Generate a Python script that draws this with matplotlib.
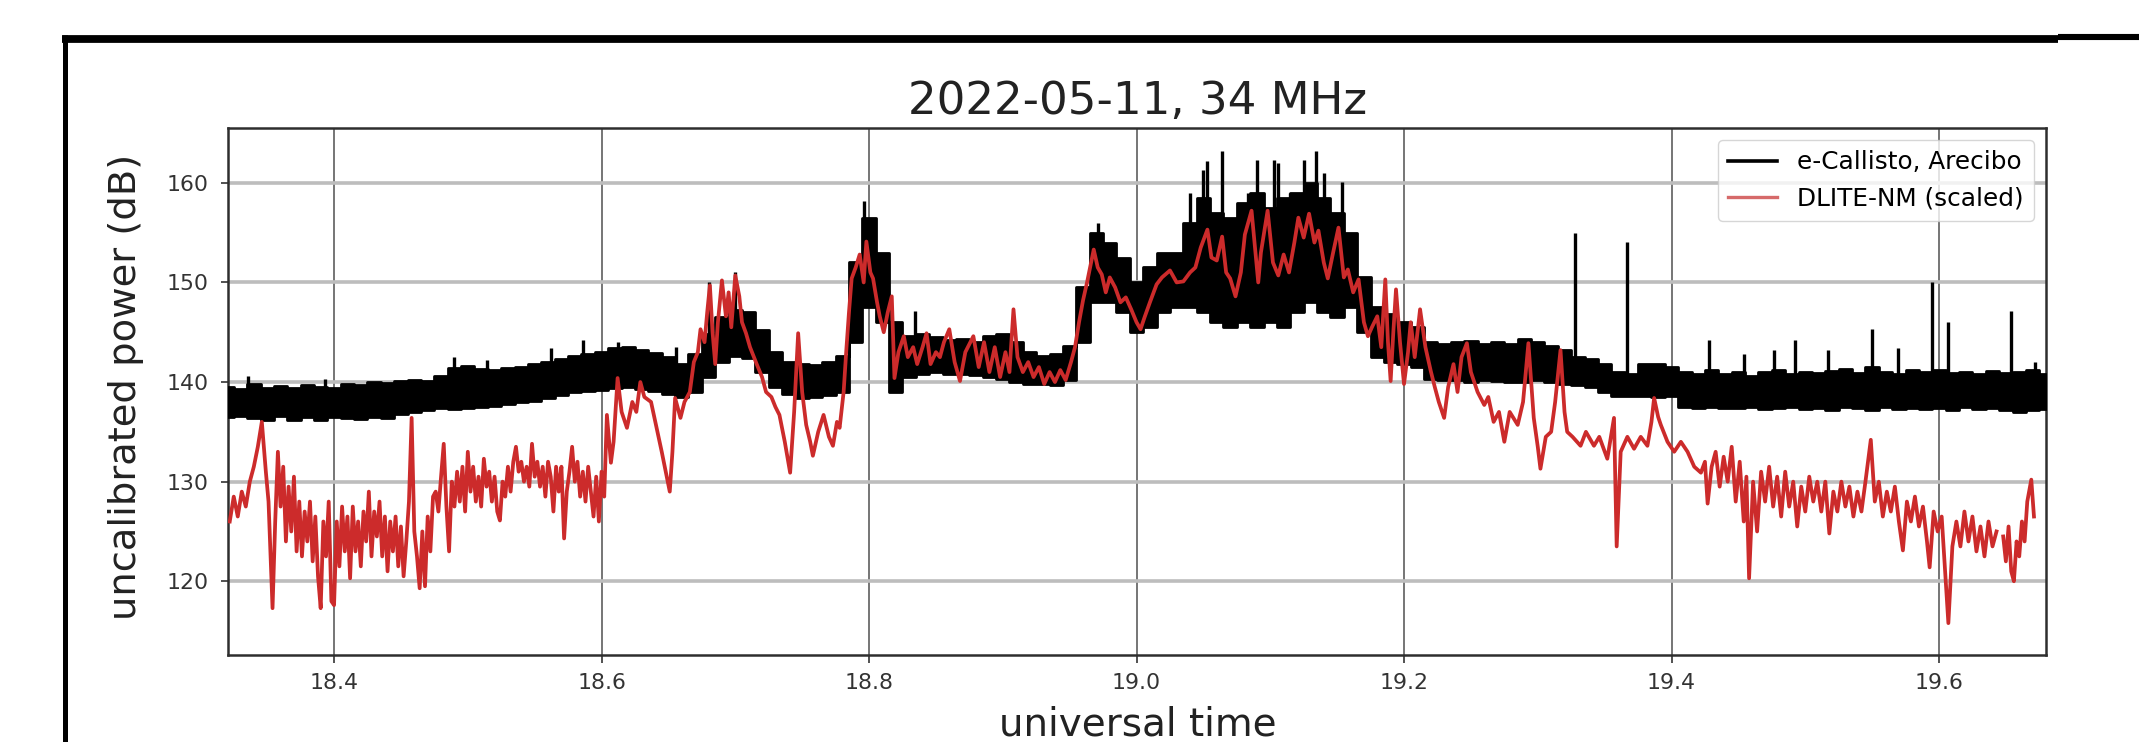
import numpy as np
import matplotlib
matplotlib.use("Agg")
import matplotlib.pyplot as plt
from matplotlib.lines import Line2D

# ---------------- data ----------------
title = "2022-05-11, 34 MHz"
xlabel = "universal time"
ylabel = "uncalibrated power (dB)"
series_names = ["e-Callisto, Arecibo", "DLITE-NM (scaled)"]
xticks = [18.4, 18.6, 18.8, 19.0, 19.2, 19.4, 19.6]
yticks = [120, 130, 140, 150, 160]

# e-Callisto band (lower / upper envelope), one value every 0.01 h from 18.32 to 19.68
bk_t = np.round(np.linspace(18.32, 19.68, 137), 2)
bk_lo = [136.5, 136.6, 136.4, 136.2, 136.6, 136.2, 136.5, 136.2, 136.5, 136.4,
         136.3, 136.5, 136.4, 136.8, 137.0, 137.2, 137.4, 137.3, 137.4, 137.5,
         137.6, 137.8, 138.0, 138.1, 138.4, 138.7, 139.0, 139.1, 139.2, 139.4,
         139.5, 139.3, 139.1, 138.8, 138.5, 139.0, 140.5, 142.0, 142.6, 142.4,
         141.0, 139.5, 138.8, 138.4, 138.5, 138.7, 139.0, 144.0, 147.5, 146.0,
         139.0, 140.5, 140.8, 141.0, 140.8, 140.8, 140.7, 140.5, 140.3, 140.0,
         139.8, 139.8, 139.7, 140.2, 144.0, 148.0, 148.0, 147.0, 145.0, 145.5,
         147.0, 147.5, 147.5, 147.0, 146.0, 145.5, 146.0, 145.5, 146.0, 145.5,
         147.0, 148.0, 147.0, 146.5, 147.5, 145.0, 142.5, 142.0, 141.8, 141.5,
         140.3, 140.2, 140.2, 140.0, 140.2, 140.1, 140.0, 140.0, 140.2, 140.0,
         139.8, 139.7, 139.5, 139.0, 138.6, 138.6, 138.6, 138.5, 138.6, 137.5,
         137.4, 137.5, 137.4, 137.4, 137.5, 137.3, 137.4, 137.5, 137.3, 137.4,
         137.2, 137.5, 137.4, 137.2, 137.5, 137.3, 137.4, 137.3, 137.4, 137.2,
         137.5, 137.3, 137.4, 137.2, 137.0, 137.2, 137.3]
bk_hi = [139.5, 139.3, 139.8, 139.4, 139.6, 139.4, 139.7, 139.5, 139.4, 139.8,
         139.7, 140.0, 139.9, 140.1, 140.2, 140.1, 140.6, 141.4, 141.6, 141.3,
         141.2, 141.4, 141.5, 141.8, 142.0, 142.3, 142.6, 142.8, 143.0, 143.4,
         143.5, 143.2, 142.9, 142.5, 141.8, 142.8, 144.8, 146.5, 147.2, 147.0,
         145.2, 143.0, 142.0, 141.8, 141.7, 142.0, 142.6, 152.0, 156.5, 153.0,
         146.0, 144.6, 144.8, 144.5, 144.2, 144.3, 144.0, 144.6, 144.8, 144.0,
         143.0, 142.6, 142.8, 143.6, 149.5, 155.0, 154.0, 152.5, 150.0, 151.5,
         153.0, 153.0, 156.0, 158.5, 157.0, 156.5, 158.0, 159.0, 157.5, 158.5,
         159.0, 160.0, 158.5, 157.0, 155.0, 150.5, 147.5, 146.8, 146.0, 145.5,
         144.0, 143.8, 144.0, 144.1, 143.8, 144.0, 143.8, 144.3, 144.0, 143.6,
         143.2, 142.5, 142.3, 141.8, 141.0, 140.8, 141.8, 141.8, 141.5, 141.0,
         140.8, 141.2, 140.8, 141.0, 140.6, 141.0, 141.2, 140.8, 141.0, 140.9,
         141.1, 141.3, 140.9, 141.5, 141.0, 140.8, 141.2, 141.0, 141.2, 140.9,
         141.0, 140.8, 141.1, 140.9, 141.0, 141.2, 140.8]

# e-Callisto narrow spikes: time and peak value
spike_t = [18.336, 18.393, 18.490, 18.514, 18.562, 18.586, 18.612, 18.656, 18.680, 18.700,
           18.796, 18.806, 18.834, 18.971, 19.040, 19.050, 19.053, 19.064, 19.083, 19.090,
           19.103, 19.106, 19.115, 19.125, 19.134, 19.140, 19.154, 19.328, 19.367, 19.428,
           19.454, 19.477, 19.492, 19.517, 19.550, 19.569, 19.595, 19.607, 19.654, 19.672]
spike_v = [140.6, 140.3, 142.5, 142.2, 143.4, 144.2, 144.0, 143.5, 150.0, 151.0,
           158.2, 153.0, 147.1, 156.0, 159.0, 161.3, 162.2, 163.2, 159.0, 162.3,
           162.3, 162.0, 159.0, 162.3, 163.2, 161.0, 160.1, 155.0, 154.1, 144.2,
           142.8, 143.2, 144.2, 143.2, 145.3, 143.4, 150.0, 146.0, 147.1, 142.0]

# DLITE-NM (scaled) trace
red_t = [18.322, 18.325, 18.328, 18.331, 18.334, 18.337, 18.340, 18.343, 18.346, 18.349,
         18.351, 18.354, 18.356, 18.358, 18.360, 18.362, 18.364, 18.366, 18.368, 18.370,
         18.372, 18.374, 18.376, 18.378, 18.380, 18.382, 18.384, 18.386, 18.388, 18.390,
         18.392, 18.394, 18.396, 18.398, 18.400, 18.402, 18.404, 18.406, 18.408, 18.410,
         18.412, 18.414, 18.416, 18.418, 18.420, 18.422, 18.424, 18.426, 18.428, 18.430,
         18.432, 18.434, 18.436, 18.438, 18.440, 18.442, 18.444, 18.446, 18.448, 18.450,
         18.452, 18.454, 18.456, 18.458, 18.460, 18.462, 18.464, 18.466, 18.468, 18.470,
         18.472, 18.474, 18.476, 18.478, 18.480, 18.482, 18.484, 18.486, 18.488, 18.490,
         18.492, 18.494, 18.496, 18.498, 18.500, 18.502, 18.504, 18.506, 18.508, 18.510,
         18.512, 18.514, 18.516, 18.518, 18.520, 18.522, 18.524, 18.526, 18.528, 18.530,
         18.532, 18.534, 18.536, 18.538, 18.540, 18.542, 18.544, 18.546, 18.548, 18.550,
         18.552, 18.554, 18.556, 18.558, 18.560, 18.562, 18.564, 18.566, 18.568, 18.570,
         18.572, 18.574, 18.576, 18.578, 18.580, 18.582, 18.584, 18.586, 18.588, 18.590,
         18.592, 18.594, 18.596, 18.598, 18.600, 18.602, 18.604, 18.607, 18.609, 18.612,
         18.615, 18.619, 18.623, 18.626, 18.629, 18.632, 18.637, 18.641, 18.645, 18.648,
         18.651, 18.653, 18.655, 18.659, 18.662, 18.666, 18.669, 18.672, 18.674, 18.677,
         18.679, 18.681, 18.683, 18.685, 18.687, 18.690, 18.693, 18.695, 18.697, 18.700,
         18.703, 18.705, 18.708, 18.711, 18.716, 18.720, 18.723, 18.727, 18.730, 18.733,
         18.737, 18.741, 18.744, 18.747, 18.750, 18.753, 18.756, 18.758, 18.762, 18.766,
         18.770, 18.773, 18.776, 18.778, 18.781, 18.783, 18.785, 18.787, 18.790, 18.793,
         18.796, 18.798, 18.801, 18.803, 18.806, 18.808, 18.811, 18.814, 18.817, 18.819,
         18.822, 18.826, 18.829, 18.833, 18.836, 18.840, 18.843, 18.846, 18.850, 18.853,
         18.856, 18.860, 18.864, 18.868, 18.872, 18.878, 18.882, 18.886, 18.890, 18.894,
         18.898, 18.902, 18.905, 18.908, 18.911, 18.915, 18.919, 18.923, 18.927, 18.931,
         18.935, 18.939, 18.943, 18.947, 18.951, 18.954, 18.957, 18.960, 18.963, 18.966,
         18.968, 18.971, 18.974, 18.977, 18.980, 18.984, 18.988, 18.992, 18.996, 19.000,
         19.003, 19.006, 19.010, 19.015, 19.019, 19.025, 19.030, 19.035, 19.040, 19.044,
         19.048, 19.053, 19.056, 19.060, 19.064, 19.067, 19.070, 19.074, 19.078, 19.081,
         19.086, 19.091, 19.093, 19.098, 19.102, 19.106, 19.110, 19.114, 19.118, 19.121,
         19.125, 19.129, 19.133, 19.136, 19.140, 19.143, 19.147, 19.151, 19.155, 19.158,
         19.162, 19.166, 19.170, 19.173, 19.176, 19.180, 19.183, 19.186, 19.188, 19.190,
         19.192, 19.194, 19.197, 19.200, 19.203, 19.205, 19.208, 19.212, 19.216, 19.220,
         19.223, 19.226, 19.230, 19.233, 19.237, 19.240, 19.243, 19.247, 19.250, 19.255,
         19.260, 19.263, 19.267, 19.271, 19.275, 19.279, 19.285, 19.289, 19.293, 19.297,
         19.300, 19.302, 19.306, 19.310, 19.313, 19.317, 19.320, 19.322, 19.326, 19.332,
         19.336, 19.342, 19.346, 19.352, 19.357, 19.359, 19.362, 19.367, 19.372, 19.377,
         19.382, 19.385, 19.387, 19.390, 19.392, 19.397, 19.402, 19.407, 19.412, 19.417,
         19.422, 19.425, 19.427, 19.430, 19.433, 19.436, 19.439, 19.442, 19.445, 19.448,
         19.451, 19.454, 19.456, 19.458, 19.461, 19.464, 19.467, 19.470, 19.473, 19.476,
         19.479, 19.482, 19.485, 19.488, 19.491, 19.494, 19.497, 19.500, 19.503, 19.506,
         19.509, 19.512, 19.515, 19.518, 19.521, 19.524, 19.527, 19.530, 19.533, 19.536,
         19.539, 19.542, 19.545, 19.549, 19.552, 19.555, 19.558, 19.561, 19.564, 19.567,
         19.570, 19.573, 19.576, 19.579, 19.582, 19.585, 19.588, 19.591, 19.593, 19.596,
         19.599, 19.602, 19.605, 19.607, 19.610, 19.613, 19.616, 19.619, 19.622, 19.625,
         19.628, 19.631, 19.634, 19.637, 19.640, 19.643, 19.646, 19.648, 19.650, 19.652,
         19.654, 19.656, 19.658, 19.660, 19.662, 19.664, 19.666, 19.669, 19.671]
red_v = [126.0, 128.5, 126.5, 129.0, 127.5, 130.0, 131.5, 133.5, 136.0, 131.0,
         128.0, 117.3, 126.0, 133.0, 127.5, 131.5, 124.0, 129.5, 125.0, 130.5,
         123.0, 128.0, 122.5, 127.0, 124.0, 128.0, 122.0, 126.5, 120.5, 117.3,
         126.0, 122.5, 128.0, 118.0, 117.6, 126.0, 121.5, 127.5, 123.0, 126.5,
         120.3, 127.5, 123.0, 126.0, 121.5, 127.0, 124.0, 129.0, 122.5, 127.0,
         124.5, 128.0, 122.5, 126.5, 121.0, 126.0, 123.0, 126.5, 121.5, 125.5,
         120.5, 124.0, 128.0, 136.4, 125.0, 122.5, 119.3, 125.0, 119.5, 126.5,
         123.0, 128.5, 129.0, 127.0, 130.5, 133.8, 127.5, 123.0, 130.0, 127.5,
         131.0, 128.0, 131.5, 127.0, 133.0, 129.0, 131.5, 128.0, 130.5, 127.5,
         132.3, 129.5, 131.0, 128.0, 130.5, 127.0, 126.1, 130.0, 128.5, 131.5,
         129.0, 132.0, 133.5, 131.0, 132.0, 130.0, 131.5, 129.5, 133.8, 130.5,
         132.0, 129.5, 131.5, 128.5, 132.0, 130.5, 127.0, 131.5, 129.0, 131.5,
         124.3, 129.0, 131.0, 133.5, 130.0, 132.0, 128.5, 131.0, 128.0, 131.5,
         129.0, 126.5, 130.5, 126.0, 131.0, 128.5, 136.7, 131.9, 134.0, 140.4,
         137.0, 135.4, 138.0, 137.0, 140.0, 138.5, 138.0, 135.5, 133.0, 131.0,
         129.0, 133.0, 138.4, 136.4, 138.0, 139.0, 142.0, 143.0, 145.3, 144.0,
         147.0, 149.7, 145.0, 141.8, 146.0, 150.2, 146.6, 149.0, 145.5, 150.7,
         148.6, 146.0, 144.9, 143.5, 141.8, 140.5, 139.0, 138.5, 137.5, 136.7,
         134.0, 130.9, 137.0, 144.9, 139.0, 135.7, 134.0, 132.6, 135.0, 136.7,
         134.5, 133.6, 136.0, 135.4, 139.0, 143.2, 147.0, 150.4, 151.5, 152.8,
         150.0, 154.1, 151.0, 150.4, 148.0, 146.6, 145.0, 147.0, 148.6, 140.4,
         143.0, 144.6, 142.5, 143.5, 141.8, 143.5, 144.9, 141.8, 143.0, 142.5,
         144.0, 145.3, 142.0, 140.1, 143.0, 144.6, 141.5, 144.0, 141.0, 143.5,
         140.5, 143.0, 141.0, 147.3, 142.5, 141.0, 142.0, 140.5, 141.5, 139.8,
         141.0, 140.0, 141.2, 140.2, 142.0, 143.5, 146.0, 148.2, 150.0, 152.0,
         153.3, 151.5, 150.8, 149.0, 150.5, 149.5, 148.0, 148.5, 147.3, 146.0,
         145.3, 146.5, 148.0, 149.8, 150.5, 151.2, 150.0, 150.1, 151.0, 151.5,
         153.5, 155.3, 152.5, 152.2, 154.6, 151.0, 150.4, 148.6, 151.0, 154.8,
         157.2, 150.0, 153.0, 157.2, 152.0, 150.7, 152.8, 151.0, 154.0, 156.5,
         154.5, 156.9, 154.0, 155.2, 152.0, 150.4, 153.0, 155.5, 150.5, 151.3,
         149.0, 150.3, 146.0, 144.6, 145.5, 146.6, 143.5, 150.3, 144.0, 140.1,
         145.0, 149.3, 144.0, 139.8, 143.0, 146.0, 142.5, 147.3, 143.5, 141.1,
         139.5, 138.0, 136.4, 139.5, 141.8, 139.0, 142.5, 143.9, 141.0, 139.0,
         137.7, 138.5, 136.0, 137.0, 134.0, 137.0, 135.7, 138.0, 143.9, 136.4,
         133.5, 131.3, 134.5, 135.0, 138.0, 143.2, 137.0, 135.0, 134.5, 133.6,
         135.0, 133.6, 134.5, 132.3, 136.4, 123.5, 133.0, 134.5, 133.3, 134.5,
         133.6, 136.0, 138.4, 136.5, 135.7, 134.0, 133.0, 134.0, 133.0, 131.5,
         130.9, 132.0, 127.8, 131.5, 133.0, 129.5, 132.5, 130.0, 133.5, 128.0,
         132.0, 126.0, 130.5, 120.3, 130.0, 125.0, 131.0, 128.0, 131.5, 127.5,
         130.5, 126.5, 131.0, 127.5, 130.0, 125.5, 129.5, 127.0, 130.5, 128.0,
         130.0, 127.0, 130.0, 124.8, 129.0, 127.0, 130.0, 127.5, 129.5, 126.5,
         129.0, 127.0, 130.0, 134.2, 128.0, 130.0, 126.5, 129.0, 127.0, 129.5,
         126.0, 123.1, 128.0, 126.0, 128.5, 125.5, 127.5, 124.0, 121.4, 127.0,
         125.0, 126.5, 120.0, 115.8, 123.5, 126.0, 123.5, 127.0, 124.0, 126.5,
         123.0, 125.5, 122.5, 126.0, 123.5, 125.0, np.nan, 124.5, 122.0, 125.5,
         121.0, 120.0, 124.0, 122.5, 126.0, 124.0, 128.0, 130.2, 126.5]

# ---------------- figure ----------------
W, H = 2139, 742
fig = plt.figure(figsize=(W / 100, H / 100), dpi=100)
fig.patch.set_facecolor("white")

def fx(px):
    return px / W

def fy(py):
    return 1 - py / H

ax_l, ax_r, ax_t, ax_b = 228, 2046, 128, 655
ax = fig.add_axes([fx(ax_l), fy(ax_b), (ax_r - ax_l) / W, (ax_b - ax_t) / H])

n = min(len(red_t), len(red_v))
red_color = "#cc2b2b"

ax.fill_between(bk_t, bk_lo, bk_hi, step="mid", color="black", lw=2.0, zorder=3)
spike_base = np.interp(spike_t, bk_t, (np.array(bk_lo) + np.array(bk_hi)) / 2)
ax.vlines(spike_t, spike_base, spike_v, color="black", lw=2.4, zorder=3)
ax.plot(red_t[:n], red_v[:n], color=red_color, lw=2.7, zorder=4)

ax.set_xlim(18.3207, 19.680)
ax.set_ylim(112.6, 165.5)
ax.set_xticks(xticks)
ax.set_xticklabels([f"{v:.1f}" for v in xticks])
ax.set_yticks(yticks)
ax.set_yticklabels([str(v) for v in yticks])

ax.grid(axis="x", color="#6a6a6a", lw=1.3, zorder=1)
ax.grid(axis="y", color="#bdbdbd", lw=2.6, zorder=1)
ax.set_axisbelow(True)
for s in ax.spines.values():
    s.set_color("#2e2e2e")
    s.set_linewidth(1.8)
ax.tick_params(axis="both", labelsize=15.8, length=5.4, width=1.2,
               color="#333333", labelcolor="#333333")
ax.tick_params(axis="y", pad=8.5)
ax.tick_params(axis="x", pad=7.5)

handles = [Line2D([], [], color="black", lw=2.6),
           Line2D([], [], color="#d66a6a", lw=2.4)]
leg = ax.legend(handles, series_names, loc="upper right", fontsize=17.8,
                framealpha=0.8, edgecolor="#cccccc")
leg.set_zorder(6)

# texts
fig.text(fx(1138), fy(114), title, ha="center", va="baseline",
         fontsize=32.5, color="#222222")
fig.text(fx(1138), fy(736), xlabel, ha="center", va="baseline",
         fontsize=28, color="#222222")
fig.text(fx(126), fy(387), ylabel, ha="center", va="center", rotation=90,
         fontsize=27.7, color="#222222")

# screenshot frame lines
fig.add_artist(Line2D([fx(62), fx(2058)], [fy(38.5), fy(38.5)], color="black",
                      lw=5.6, transform=fig.transFigure, solid_capstyle="butt"))
fig.add_artist(Line2D([fx(2058), fx(2139)], [fy(36.5), fy(36.5)], color="black",
                      lw=4.4, transform=fig.transFigure, solid_capstyle="butt"))
fig.add_artist(Line2D([fx(65), fx(65)], [fy(35), fy(742)], color="black",
                      lw=3.6, transform=fig.transFigure, solid_capstyle="butt"))

fig.savefig("out.png", dpi=100, facecolor="white")
